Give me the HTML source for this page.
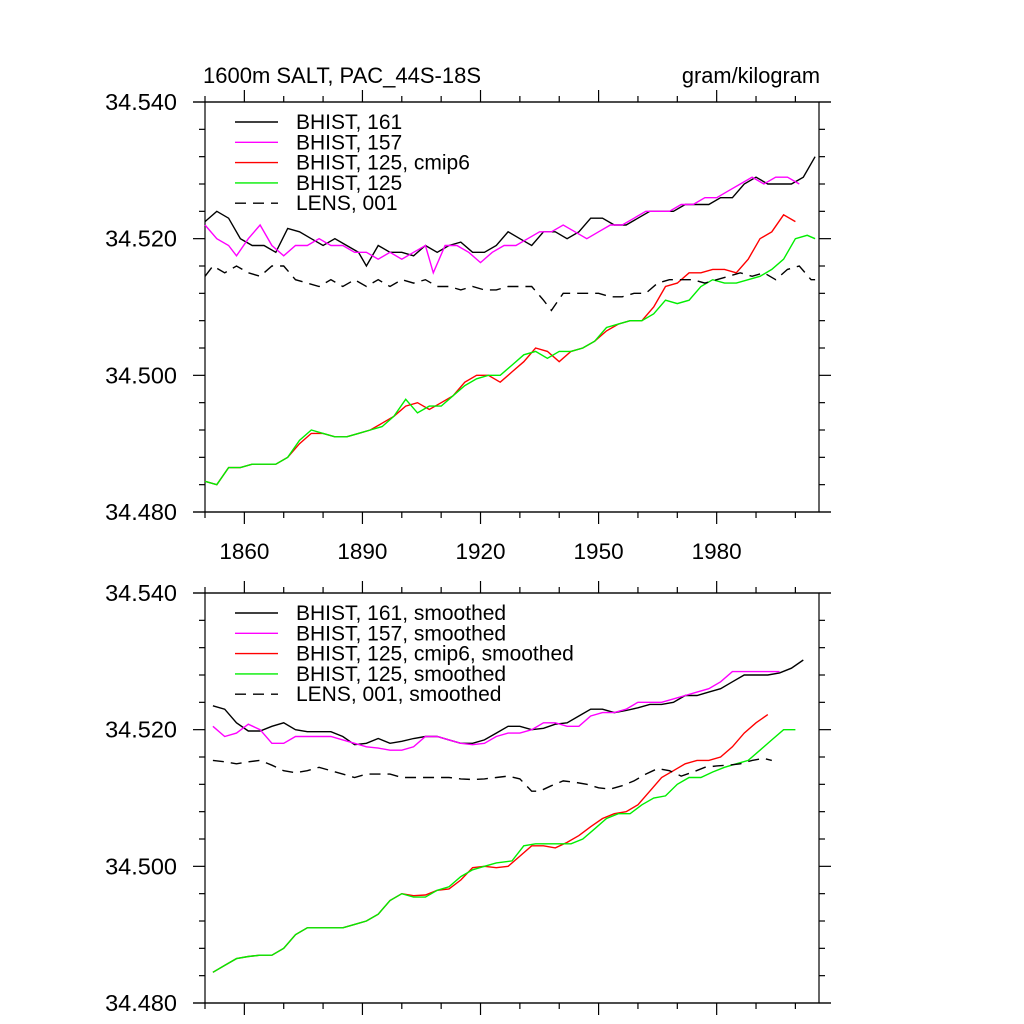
<!DOCTYPE html>
<html><head><meta charset="utf-8"><style>
body{margin:0;background:#fff}
svg{display:block}
text{font-family:"Liberation Sans",sans-serif;fill:#000}
</style></head><body>
<svg id="chart" width="1024" height="1024" viewBox="0 0 1024 1024">
<text x="203" y="83" font-size="22">1600m SALT, PAC_44S-18S</text>
<text x="820" y="83" font-size="21.8" text-anchor="end">gram/kilogram</text>
</svg>
<script>
// ---- data (top panel, raw annual-ish) ----
const yrsB161=[1850,1853,1856,1859,1862,1865,1868,1871,1874,1877,1880,1883,1886,1889,1891,1894,1897,1900,1903,1906,1909,1912,1915,1918,1921,1924,1927,1930,1933,1936,1939,1942,1945,1948,1951,1954,1957,1960,1963,1966,1969,1972,1975,1978,1981,1984,1987,1990,1993,1996,1999,2002,2005];
const valB161=[34.5225,34.524,34.523,34.520,34.519,34.519,34.518,34.5215,34.521,34.520,34.519,34.520,34.519,34.518,34.516,34.519,34.518,34.518,34.5175,34.519,34.518,34.519,34.5195,34.518,34.518,34.519,34.521,34.520,34.519,34.521,34.521,34.520,34.521,34.523,34.523,34.522,34.522,34.523,34.524,34.524,34.524,34.525,34.525,34.525,34.526,34.526,34.528,34.529,34.528,34.528,34.528,34.529,34.532];
const yrsB157=[1850,1853,1856,1858,1861,1864,1867,1870,1873,1876,1879,1882,1885,1888,1891,1894,1897,1900,1903,1906,1908,1911,1914,1917,1920,1923,1926,1929,1932,1935,1938,1941,1944,1947,1950,1953,1956,1959,1962,1965,1968,1971,1974,1977,1980,1983,1986,1989,1992,1995,1998,2001];
const valB157=[34.522,34.520,34.519,34.5175,34.520,34.522,34.519,34.5175,34.519,34.519,34.520,34.519,34.519,34.518,34.518,34.517,34.518,34.517,34.518,34.519,34.515,34.519,34.519,34.518,34.5165,34.518,34.519,34.519,34.520,34.521,34.521,34.522,34.521,34.520,34.521,34.522,34.522,34.523,34.524,34.524,34.524,34.525,34.525,34.526,34.526,34.527,34.528,34.529,34.528,34.529,34.529,34.528];
const yrsCmip=[1850,1853,1856,1859,1862,1865,1868,1871,1874,1877,1880,1883,1886,1889,1892,1895,1898,1901,1904,1907,1910,1913,1916,1919,1922,1925,1928,1931,1934,1937,1940,1943,1946,1949,1952,1955,1958,1961,1964,1967,1970,1973,1976,1979,1982,1985,1988,1991,1994,1997,2000];
const valCmip=[34.4845,34.484,34.4865,34.4865,34.487,34.487,34.487,34.488,34.490,34.4915,34.4915,34.491,34.491,34.4915,34.492,34.493,34.494,34.4955,34.496,34.495,34.496,34.497,34.499,34.500,34.500,34.499,34.5005,34.502,34.504,34.5035,34.502,34.5035,34.504,34.505,34.5065,34.5075,34.508,34.508,34.510,34.513,34.5135,34.515,34.515,34.5155,34.5155,34.515,34.517,34.520,34.521,34.5235,34.5225];
const yrsB125=[1850,1853,1856,1859,1862,1865,1868,1871,1874,1877,1880,1883,1886,1889,1892,1895,1898,1901,1904,1907,1910,1913,1916,1919,1922,1925,1928,1931,1934,1937,1940,1943,1946,1949,1952,1955,1958,1961,1964,1967,1970,1973,1976,1979,1982,1985,1988,1991,1994,1997,2000,2003,2005];
const valB125=[34.4845,34.484,34.4865,34.4865,34.487,34.487,34.487,34.488,34.4905,34.492,34.4915,34.491,34.491,34.4915,34.492,34.4925,34.494,34.4965,34.4945,34.4955,34.4955,34.497,34.4985,34.4995,34.5,34.5,34.5015,34.503,34.5035,34.5025,34.5035,34.5035,34.504,34.505,34.507,34.5075,34.508,34.508,34.509,34.511,34.5105,34.511,34.513,34.514,34.5135,34.5135,34.514,34.5145,34.5155,34.517,34.520,34.5205,34.520];
const yrsLens=[1850,1852,1855,1858,1861,1864,1867,1870,1873,1876,1879,1882,1885,1888,1891,1894,1897,1900,1903,1906,1909,1912,1915,1918,1921,1924,1927,1930,1933,1936,1938,1941,1944,1947,1950,1953,1956,1959,1962,1965,1968,1971,1974,1977,1980,1983,1986,1989,1992,1995,1998,2001,2004,2005];
const valLens=[34.5145,34.516,34.515,34.516,34.515,34.5145,34.516,34.516,34.514,34.5135,34.513,34.514,34.513,34.514,34.513,34.514,34.513,34.514,34.5135,34.514,34.513,34.513,34.5125,34.513,34.5125,34.5125,34.513,34.513,34.513,34.511,34.5095,34.512,34.512,34.512,34.512,34.5115,34.5115,34.512,34.512,34.5135,34.514,34.514,34.514,34.5135,34.514,34.5145,34.515,34.5145,34.515,34.514,34.5155,34.516,34.514,34.514];
// ---- data (bottom panel, smoothed) ----
const yrsS161=[1852,1855,1858,1861,1864,1867,1870,1873,1876,1879,1882,1885,1888,1891,1894,1897,1900,1903,1906,1909,1912,1915,1918,1921,1924,1927,1930,1933,1936,1939,1942,1945,1948,1951,1954,1957,1960,1963,1966,1969,1972,1975,1978,1981,1984,1987,1990,1993,1996,1999,2002];
const valS161=[34.5235,34.523,34.521,34.5198,34.5198,34.5205,34.521,34.520,34.5197,34.5197,34.5197,34.519,34.5178,34.518,34.5187,34.518,34.5183,34.5187,34.519,34.519,34.5185,34.518,34.518,34.5185,34.5195,34.5205,34.5205,34.520,34.5202,34.5208,34.521,34.522,34.523,34.523,34.5225,34.5228,34.5232,34.5237,34.5237,34.524,34.525,34.525,34.5255,34.526,34.527,34.528,34.528,34.528,34.5283,34.529,34.5302];
const yrsS157=[1852,1855,1858,1861,1864,1867,1870,1873,1876,1879,1882,1885,1888,1891,1894,1897,1900,1903,1906,1909,1912,1915,1918,1921,1924,1927,1930,1933,1936,1939,1942,1945,1948,1951,1954,1957,1960,1963,1966,1969,1972,1975,1978,1981,1984,1987,1990,1993,1996];
const valS157=[34.5205,34.519,34.5195,34.5208,34.520,34.518,34.518,34.519,34.519,34.519,34.519,34.5185,34.518,34.5175,34.5173,34.517,34.517,34.5175,34.519,34.519,34.5185,34.518,34.5178,34.518,34.519,34.5195,34.5195,34.520,34.521,34.521,34.5205,34.5205,34.522,34.5225,34.5225,34.523,34.524,34.524,34.524,34.5245,34.525,34.5255,34.526,34.527,34.5285,34.5285,34.5285,34.5285,34.5285];
const yrsSCmip=[1852,1855,1858,1861,1864,1867,1870,1873,1876,1879,1882,1885,1888,1891,1894,1897,1900,1903,1906,1909,1912,1915,1918,1921,1924,1927,1930,1933,1936,1939,1942,1945,1948,1951,1954,1957,1960,1963,1966,1969,1972,1975,1978,1981,1984,1987,1990,1993];
const valSCmip=[34.4845,34.4855,34.4865,34.4868,34.487,34.487,34.488,34.490,34.491,34.491,34.491,34.491,34.4915,34.492,34.493,34.495,34.496,34.4957,34.4958,34.4965,34.4967,34.498,34.4998,34.500,34.4998,34.500,34.5015,34.503,34.503,34.5027,34.5035,34.5045,34.5058,34.507,34.5077,34.508,34.509,34.511,34.513,34.514,34.515,34.5155,34.5155,34.516,34.5175,34.5195,34.521,34.5222];
const yrsS125=[1852,1855,1858,1861,1864,1867,1870,1873,1876,1879,1882,1885,1888,1891,1894,1897,1900,1903,1906,1909,1912,1915,1918,1921,1924,1928,1931,1934,1937,1940,1943,1946,1949,1952,1955,1958,1961,1964,1967,1970,1973,1976,1979,1982,1985,1988,1991,1994,1997,2000];
const valS125=[34.4845,34.4855,34.4865,34.4868,34.487,34.487,34.488,34.490,34.491,34.491,34.491,34.491,34.4915,34.492,34.493,34.495,34.496,34.4955,34.4955,34.4965,34.497,34.4985,34.4995,34.500,34.5005,34.5008,34.503,34.5033,34.5033,34.5033,34.5033,34.504,34.5055,34.507,34.5077,34.5077,34.509,34.510,34.5103,34.512,34.513,34.513,34.5138,34.5145,34.515,34.5155,34.517,34.5185,34.52,34.52];
const yrsSLens=[1852,1855,1858,1861,1864,1867,1870,1873,1876,1879,1882,1885,1888,1891,1894,1897,1900,1903,1906,1909,1912,1915,1918,1921,1924,1927,1930,1933,1935,1938,1941,1944,1947,1950,1953,1956,1959,1962,1965,1968,1971,1974,1977,1980,1983,1986,1989,1992,1994];
const valSLens=[34.5155,34.5153,34.515,34.5153,34.5155,34.5148,34.514,34.5137,34.514,34.5145,34.514,34.5135,34.513,34.5135,34.5135,34.5135,34.513,34.513,34.513,34.513,34.513,34.5128,34.5127,34.5128,34.513,34.5132,34.5128,34.511,34.511,34.5118,34.5125,34.5123,34.512,34.5115,34.5113,34.5118,34.5125,34.5135,34.5143,34.514,34.5132,34.5138,34.5145,34.5147,34.5148,34.515,34.5155,34.5158,34.5155];
const xMajorTicks=[1860,1890,1920,1950,1980];
const xMinorTicks=[1850,1870,1880,1900,1910,1930,1940,1960,1970,1990,2000];
const yMajorTicks=[34.48,34.50,34.52,34.54];
const yLabels=["34.480","34.500","34.520","34.540"];
const legendTop=["BHIST, 161","BHIST, 157","BHIST, 125, cmip6","BHIST, 125","LENS, 001"];
const legendBot=["BHIST, 161, smoothed","BHIST, 157, smoothed","BHIST, 125, cmip6, smoothed","BHIST, 125, smoothed","LENS, 001, smoothed"];

const NS="http://www.w3.org/2000/svg";
const svg=document.getElementById('chart');
const X0=205,X1=819,YR0=1850,YR1=2006,V0=34.48,V1=34.54;
function xs(y){return X0+(y-YR0)/(YR1-YR0)*(X1-X0);}
function mk(tag,attrs,parent){const e=document.createElementNS(NS,tag);for(const k in attrs)e.setAttribute(k,attrs[k]);(parent||svg).appendChild(e);return e;}

function panel(top,bot,name,showXLabels,series,legend){
  const g=mk('g',{});
  
  
  const ys=v=>bot-(v-V0)/(V1-V0)*(bot-top);
  const frame=mk('rect',{x:X0,y:top,width:X1-X0,height:bot-top,fill:'none',stroke:'#000','stroke-width':1.2},g);
  
  
  const tk={stroke:'#000','stroke-width':1.2};
  xMajorTicks.forEach((yr,i)=>{
    const x=xs(yr);
    mk('line',Object.assign({x1:x,x2:x,y1:bot,y2:bot+12},tk),g);
    mk('line',Object.assign({x1:x,x2:x,y1:top,y2:top-12},tk),g);
    if(showXLabels){const t=mk('text',{x:x,y:bot+47,'font-size':22.5,'text-anchor':'middle'},g);t.textContent=yr;
      
      }
  });
  xMinorTicks.forEach(yr=>{const x=xs(yr);
    mk('line',Object.assign({x1:x,x2:x,y1:bot,y2:bot+6},tk),g);
    mk('line',Object.assign({x1:x,x2:x,y1:top,y2:top-6},tk),g);});
  mk('line',Object.assign({x1:X0-12,x2:X1+12,y1:bot,y2:bot},tk),g);
  mk('line',Object.assign({x1:X0-12,x2:X1+12,y1:top,y2:top},tk),g);
  yMajorTicks.forEach((v,i)=>{const y=ys(v);
    mk('line',Object.assign({x1:X0,x2:X0-12,y1:y,y2:y},tk),g);
    mk('line',Object.assign({x1:X1,x2:X1+12,y1:y,y2:y},tk),g);
    const t=mk('text',{x:X0-28,y:y+8,'font-size':23.5,'text-anchor':'end'},g);t.textContent=yLabels[i];
    
    
    if(i<yMajorTicks.length-1){for(let k=1;k<5;k++){const yy=ys(v+k*0.004);
      mk('line',Object.assign({x1:X0,x2:X0-6,y1:yy,y2:yy},tk),g);
      mk('line',Object.assign({x1:X1,x2:X1+6,y1:yy,y2:yy},tk),g);}}
  });
  series.forEach((s,i)=>{
    const pts=s.yrs.map((yr,j)=>xs(yr).toFixed(1)+','+ys(s.vals[j]).toFixed(1)).join(' ');
    const p=mk('polyline',{points:pts,fill:'none',stroke:s.color,'stroke-width':1.4,'stroke-dasharray':s.dash||'none'},g);
    
    
    const ly=top+20+i*20.3;
    const l=mk('line',{x1:235,x2:278,y1:ly,y2:ly,stroke:s.color,'stroke-width':1.4,'stroke-dasharray':s.dash||'none'},g);
    
    
    const t=mk('text',{x:296,y:ly+7,'font-size':21},g);t.textContent=legend[i];
    
    
  });
}
panel(102,512,'top-panel',true,[
 {id:'bhist-161',yrs:yrsB161,vals:valB161,color:'#000'},
 {id:'bhist-157',yrs:yrsB157,vals:valB157,color:'#ff00ff'},
 {id:'bhist-125-cmip6',yrs:yrsCmip,vals:valCmip,color:'#ff0000'},
 {id:'bhist-125',yrs:yrsB125,vals:valB125,color:'#00ee00'},
 {id:'lens-001',yrs:yrsLens,vals:valLens,color:'#000',dash:'11 7'}],legendTop);
panel(593,1003,'bottom-panel',false,[
 {id:'bhist-161-smoothed',yrs:yrsS161,vals:valS161,color:'#000'},
 {id:'bhist-157-smoothed',yrs:yrsS157,vals:valS157,color:'#ff00ff'},
 {id:'bhist-125-cmip6-smoothed',yrs:yrsSCmip,vals:valSCmip,color:'#ff0000'},
 {id:'bhist-125-smoothed',yrs:yrsS125,vals:valS125,color:'#00ee00'},
 {id:'lens-001-smoothed',yrs:yrsSLens,vals:valSLens,color:'#000',dash:'11 7'}],legendBot);
</script>
</body></html>
